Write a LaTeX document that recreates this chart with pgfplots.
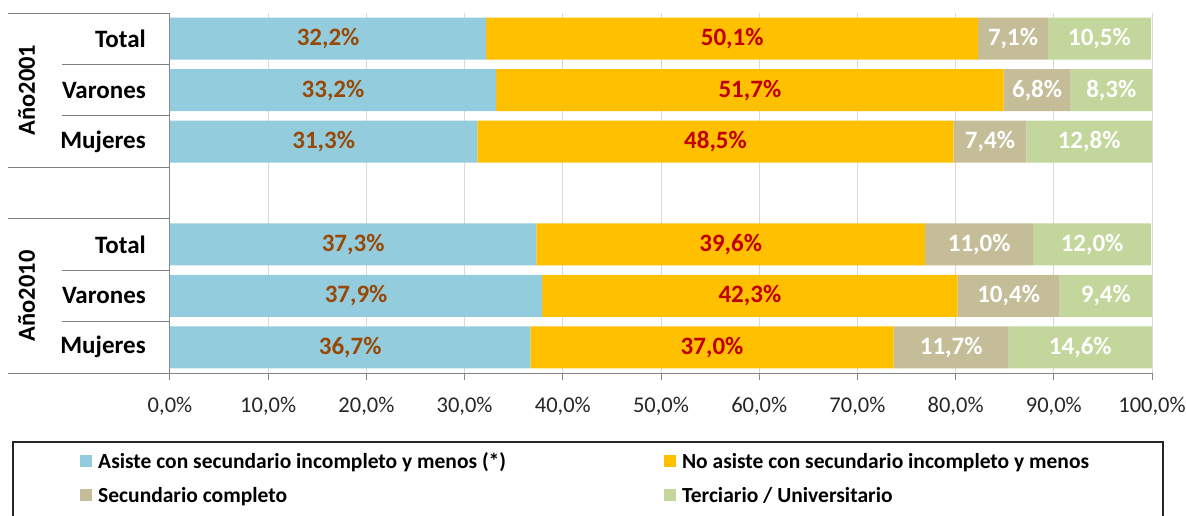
\documentclass[border=0pt]{standalone}
\usepackage{pgfplots}
\pgfplotsset{compat=1.18}
\usepackage{pgfplotstable}
\usepackage{fontspec}
\setmainfont{Carlito}
\definecolor{cblue}{HTML}{93CDDD}
\definecolor{corange}{HTML}{FFC000}
\definecolor{ctan}{HTML}{C4BD97}
\definecolor{cgreen}{HTML}{C3D69B}
\definecolor{lblbrown}{HTML}{984807}
\definecolor{lblred}{HTML}{C00000}
\definecolor{gridc}{HTML}{D9D9D9}
\definecolor{axisc}{HTML}{868686}
\definecolor{tablec}{HTML}{7F7F7F}

\pgfplotstableread{
row a b c d
0 32.2 50.1 7.1 10.5
1 33.2 51.7 6.8 8.3
2 31.3 48.5 7.4 12.8
4 37.3 39.6 11.0 12.0
5 37.9 42.3 10.4 9.4
6 36.7 37.0 11.7 14.6
}\datatable

\newcommand{\lblfont}{\bfseries\fontsize{25}{25}\selectfont}
\newcommand{\legfont}{\bfseries\fontsize{21.5}{21.5}\selectfont}

\begin{document}
\begin{tikzpicture}[x=1pt,y=1pt]
\useasboundingbox (0,0) rectangle (1186,515);
\pgfplotsset{
  base/.style={
    scale only axis, width=982pt, height=360pt,
    at={(170pt,142pt)}, anchor=south west,
    xmin=0, xmax=100, ymin=-0.5, ymax=6.5, y dir=reverse,
    clip=false,
  },
  sqleg/.style={legend image code/.code={\fill[##1] (0pt,-6pt) rectangle (12pt,6pt);}},
}
\begin{axis}[base,
  xbar stacked, bar width=42pt,
  axis x line*=bottom, axis y line*=left,
  axis line style={axisc, line width=1pt},
  xtick={0,10,...,100}, xmajorgrids, grid style={gridc, line width=1pt},
  tick align=outside, major tick length=7pt,
  xtick style={axisc, line width=1pt},
  ytick={0,1,2,4,5,6},
  yticklabels={Total,Varones,Mujeres,Total,Varones,Mujeres},
  ytick style={draw=none},
  yticklabel style={font=\lblfont, anchor=east, inner sep=0pt, xshift=-17pt},
  /pgf/number format/assume math mode=true,
  xticklabel={\pgfmathprintnumber[fixed,fixed zerofill,precision=1,use comma]{\tick}\%},
  xticklabel style={font=\fontsize{22.5}{22.5}\selectfont, text=black!85, inner sep=0pt, anchor=north, yshift=-17pt},
  legend columns=2,
  legend style={draw=none, fill=none, at={(-0.0916,-0.215)}, anchor=north west,
    font=\legfont, inner sep=0pt, row sep=13pt,
    /tikz/every odd column/.append style={column sep=4pt},
    /tikz/every even column/.append style={column sep=156pt}},
  legend cell align=left,
]
\addplot[fill=cblue, draw=none, sqleg] table[x=a, y=row]{\datatable};
\addlegendentry{Asiste con secundario incompleto y menos (*)}
\addplot[fill=corange, draw=none, sqleg] table[x=b, y=row]{\datatable};
\addlegendentry{No asiste con secundario incompleto y menos}
\addplot[fill=ctan, draw=none, sqleg] table[x=c, y=row]{\datatable};
\addlegendentry{Secundario completo}
\addplot[fill=cgreen, draw=none, sqleg] table[x=d, y=row]{\datatable};
\addlegendentry{Terciario / Universitario}
% table lines on the left
\foreach \yy in {-0.5,2.5,3.5,6.5} {
  \edef\tmp{\noexpand\draw[tablec, line width=1pt] (axis cs:-16.5,\yy) -- (axis cs:0,\yy);}\tmp
}
\foreach \yy in {0.5,1.5,4.5,5.5} {
  \edef\tmp{\noexpand\draw[tablec, line width=1pt] (axis cs:-11,\yy) -- (axis cs:0,\yy);}\tmp
}
\node[rotate=90, font=\bfseries\fontsize{24.5}{24.5}\selectfont] at (axis cs:-14.6,1) {Año2001};
\node[rotate=90, font=\bfseries\fontsize{24.5}{24.5}\selectfont] at (axis cs:-14.6,5) {Año2010};
\end{axis}
% labels layer
\begin{axis}[base, hide axis,
  nodes near coords,
  point meta=explicit,
  nodes near coords={\pgfmathprintnumber[fixed,fixed zerofill,precision=1,use comma]{\pgfplotspointmeta}\%},
  every node near coord/.append style={anchor=center, font=\lblfont, /pgf/number format/assume math mode=true},
]
\addplot[draw=none, mark=none, nodes near coords style={text=lblbrown}] table[x expr=\thisrow{a}/2, y=row, meta=a]{\datatable};
\addplot[draw=none, mark=none, nodes near coords style={text=lblred}] table[x expr=\thisrow{a}+\thisrow{b}/2, y=row, meta=b]{\datatable};
\addplot[draw=none, mark=none, nodes near coords style={text=white}] table[x expr=\thisrow{a}+\thisrow{b}+\thisrow{c}/2, y=row, meta=c]{\datatable};
\addplot[draw=none, mark=none, nodes near coords style={text=white}] table[x expr=\thisrow{a}+\thisrow{b}+\thisrow{c}+\thisrow{d}/2, y=row, meta=d]{\datatable};
\end{axis}
\draw[black!85, line width=1.2pt] (13,73) rectangle (1163,-10);
\end{tikzpicture}
\end{document}
